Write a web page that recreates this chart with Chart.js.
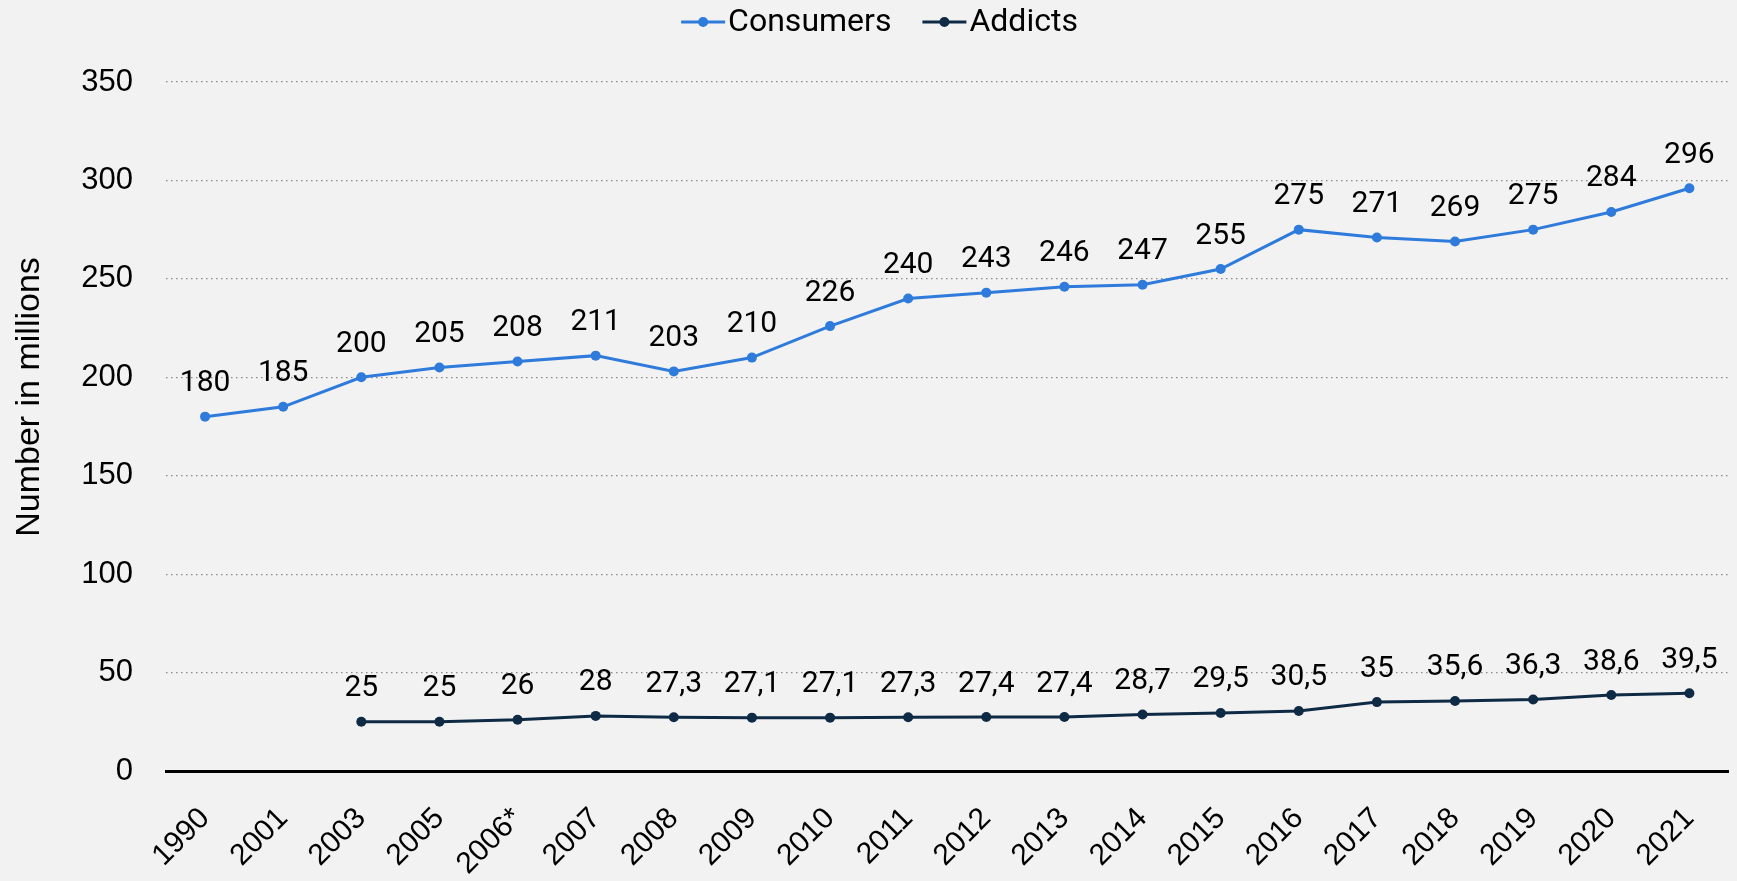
<!DOCTYPE html>
<html>
<head>
<meta charset="utf-8">
<script src="https://cdn.jsdelivr.net/npm/chart.js@4.4.1/dist/chart.umd.min.js"></script>
<style>
html, body { margin: 0; padding: 0; background: #f2f2f2; }
#chart { display: block; }
</style>
</head>
<body>
<canvas id="chart" width="1737" height="881"></canvas>
<script>
var years = ["1990","2001","2003","2005","2006*","2007","2008","2009","2010","2011","2012","2013","2014","2015","2016","2017","2018","2019","2020","2021"]
var consumers = [180,185,200,205,208,211,203,210,226,240,243,246,247,255,275,271,269,275,284,296]
var addicts = [null,null,25,25,26,28,27.3,27.1,27.1,27.3,27.4,27.4,28.7,29.5,30.5,35,35.6,36.3,38.6,39.5]
var seriesNames = ["Consumers","Addicts"]
var seriesColors = ["#2e7bdc","#0f2a45"]
var yTitle = "Number in millions"

var font = "'Liberation Sans', Arial, sans-serif"

// number labels above every point, decimal comma
const valueLabels = {
    id: "valueLabels",
    afterDatasetsDraw(chart) {
        const ctx = chart.ctx
        ctx.save()
        ctx.font = "30px Roboto, sans-serif"
        ctx.fillStyle = "#000"
        ctx.textAlign = "center"
        ctx.textBaseline = "middle"
        chart.data.datasets.forEach((ds, i) => {
            const meta = chart.getDatasetMeta(i)
            meta.data.forEach((pt, j) => {
                const v = ds.data[j]
                if (v === null) return
                ctx.fillText(String(v).replace(".", ","), pt.x, pt.y - 33)
            })
        })
        ctx.restore()
    }
}

// legend (short line with a dot + name) and the rotated y title
const lineLegend = {
    id: "lineLegend",
    afterDraw(chart) {
        const ctx = chart.ctx
        ctx.save()
        ctx.font = "32px Roboto, sans-serif"
        ctx.textBaseline = "middle"
        const markW = 44, gapText = 3, gapItem = 31, y = 22
        let total = 0
        seriesNames.forEach((n, i) => {
            total += markW + gapText + ctx.measureText(n).width
            if (i < seriesNames.length - 1) total += gapItem
        })
        let x = chart.width / 2 - total / 2 + 11
        seriesNames.forEach((n, i) => {
            ctx.strokeStyle = seriesColors[i]
            ctx.fillStyle = seriesColors[i]
            ctx.lineWidth = 3
            ctx.beginPath()
            ctx.moveTo(x, y)
            ctx.lineTo(x + markW, y)
            ctx.stroke()
            ctx.beginPath()
            ctx.arc(x + markW / 2, y, 5, 0, Math.PI * 2)
            ctx.fill()
            x += markW + gapText
            ctx.fillStyle = "#000"
            ctx.fillText(n, x, y + 1)
            x += ctx.measureText(n).width + gapItem
        })

        ctx.translate(30, 397)
        ctx.rotate(-Math.PI / 2)
        ctx.font = "34px " + font
        ctx.textAlign = "center"
        ctx.fillStyle = "#000"
        ctx.fillText(yTitle, 0, 0)
        ctx.restore()
    }
}

new Chart(document.querySelector("#chart"), {
    type: "line",
    data: {
        labels: years,
        datasets: [{
            label: seriesNames[0],
            data: consumers,
            borderColor: seriesColors[0],
            backgroundColor: seriesColors[0],
            borderWidth: 3,
            pointRadius: 5,
            pointBorderWidth: 0
        }, {
            label: seriesNames[1],
            data: addicts,
            borderColor: seriesColors[1],
            backgroundColor: seriesColors[1],
            borderWidth: 3,
            pointRadius: 5,
            pointBorderWidth: 0
        }]
    },
    options: {
        responsive: false,
        animation: false,
        devicePixelRatio: 1,
        layout: { padding: { top: 82, right: 6, left: 0, bottom: 0 } },
        plugins: {
            legend: { display: false },
            tooltip: { enabled: false }
        },
        scales: {
            x: {
                offset: true,
                grid: { display: false },
                border: { display: true, color: "#000", width: 3 },
                ticks: {
                    color: "#000",
                    font: { family: font, size: 30 },
                    maxRotation: 45,
                    minRotation: 45,
                    autoSkip: false,
                    padding: 22
                },
                afterFit: function (scale) { scale.height = 110 }
            },
            y: {
                min: 0,
                max: 350,
                grid: { color: "#8a8a8a", lineWidth: 1.2, drawTicks: false },
                border: { display: false, dash: [1.5, 3.5] },
                ticks: {
                    stepSize: 50,
                    color: "#000",
                    font: { family: font, size: 31 },
                    padding: 33
                },
                afterFit: function (scale) { scale.width = 166 }
            }
        }
    },
    plugins: [valueLabels, lineLegend]
})
</script>
</body>
</html>
